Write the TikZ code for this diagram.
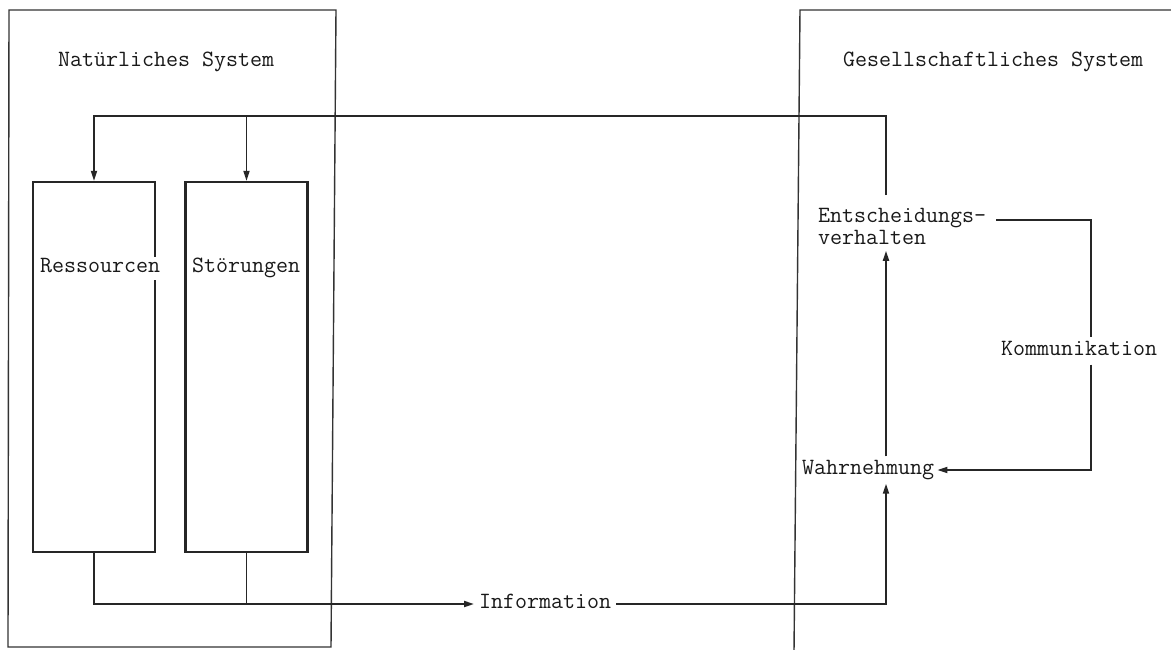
\documentclass[tikz,border=0pt]{standalone}
\usepackage{fontspec}
\usetikzlibrary{arrows.meta,calc}
\begin{document}
\begin{tikzpicture}[x=1pt,y=-1pt,
  lbl/.style={font=\ttfamily\fontsize{23.3}{22}\selectfont, text=black!90, inner sep=3pt},
  frame/.style={draw=black!80, line width=1.4pt},
  blk/.style={draw=black!85, line width=2.3pt, minimum width=122pt, minimum height=370pt, inner sep=0pt},
  conn/.style={draw=black!85, line width=1.8pt},
  arr/.style={conn, -{Triangle[length=10pt,width=6pt]}}]
\useasboundingbox (0,0) rectangle (1171,649);
\fill[white] (0,0) rectangle (1171,649);
% outer frames
\draw[frame] (9,10) -- (336,10) -- (331,647) -- (8,647) -- cycle;
\draw[frame] (1175,10) -- (800,10) -- (794,652);
% titles
\node[lbl, anchor=west, inner sep=0pt] (nat) at (58,62) {Natürliches System};
\node[lbl, anchor=west, inner sep=0pt] (ges) at (843,62) {Gesellschaftliches System};
% blocks
\node[blk] (res) at (94,367) {};
\node[blk] (stoer) at (246.5,367) {};
\node[lbl, anchor=west, fill=white, text height=12pt, text depth=3pt, inner xsep=2pt, inner ysep=4pt] (resl) at (38,268) {Ressourcen};
\node[lbl, anchor=west, text height=12pt, text depth=3pt, inner xsep=2pt] (stl) at (190,268) {Störungen};
% right side labels
\node[lbl, anchor=north west, align=left, inner xsep=0pt, inner ysep=6pt] (ent) at (818,202) {Entscheidungs-\\verhalten};
\node[lbl, anchor=west, text height=12pt, text depth=3pt, inner xsep=3pt, inner ysep=6pt] (wahr) at (799,470) {Wahrnehmung};
\node[lbl, text height=12pt, text depth=3pt, inner ysep=6pt] (kom) at (1079,351) {Kommunikation};
\node[lbl, anchor=west, text height=12pt, text depth=3pt, inner xsep=5pt] (info) at (474,604) {Information};
% helper coordinates
\coordinate (vx) at (886,0);
\coordinate (vk) at (1091,0);
\coordinate (top) at (0,116);
\coordinate (bot) at (0,604);
\coordinate (k1) at (996,220);
% feedback from decision to natural system
\draw[arr] ($(ent.north -| vx)+(0,-7)$) |- (top -| res.north) -- (res.north);
\draw[arr] (top -| stoer.north) -- (stoer.north);
% information flow
\draw[conn] (res.south) |- (bot -| stoer.south) -- (stoer.south);
\draw[arr] (bot -| stoer.south) -- (info.west);
\draw[arr] (info.east) -| (wahr.south -| vx);
\draw[arr] (wahr.north -| vx) -- (ent.south -| vx);
% communication loop
\draw[conn] (k1) -| (kom.north -| vk);
\draw[arr] (kom.south -| vk) |- (wahr.east);
\end{tikzpicture}
\end{document}
